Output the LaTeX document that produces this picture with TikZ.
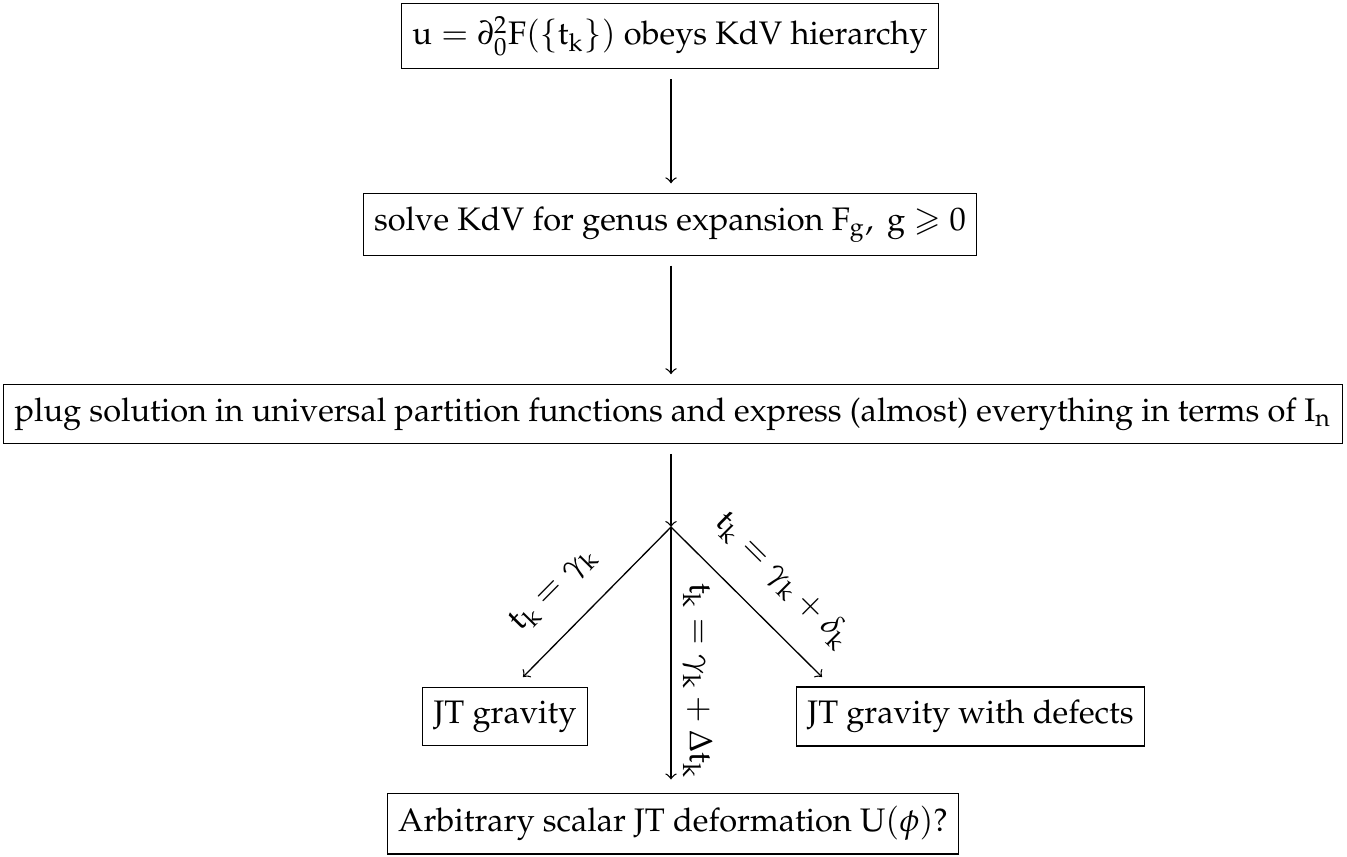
\documentclass[tikz,border=0pt]{standalone}
\usepackage[T1]{fontenc}
\usepackage{amsmath,amssymb}
\usepackage{mathpazo}
\newcommand{\ru}[1]{\mathrm{#1}}
\begin{document}
\begin{tikzpicture}[x=0.307pt,y=-0.307pt,>=to,
  box/.style={draw,inner ysep=4pt},
  flow/.style={->,shorten <=3pt,shorten >=3pt},
  branch/.style={->}]
\useasboundingbox (0,0) rectangle (1347,856);
\node[box] (b1) at (670,36) {$\ru{u}=\partial_0^2\ru{F}(\{\ru{t}_\ru{k}\})$ obeys KdV hierarchy};
\node[box] (b2) at (670,224.5) {solve KdV for genus expansion $\ru{F}_\ru{g},\ \ru{g}\geqslant 0$};
\node[box] (b3) at (673,414) {plug solution in universal partition functions and express (almost) everything in terms of $\ru{I}_\ru{n}$};
\coordinate (j) at (671,527);
\coordinate (jl) at (523,677);
\coordinate (jr) at (822,677);
\node[box] (jt) at (505,716.5) {JT gravity};
\node[box] (jtd) at (970.5,716.5) {JT gravity with defects};
\node[box,anchor=south] (b5) at (673,854.5) {Arbitrary scalar JT deformation $\ru{U}(\phi)$?};
\draw[flow] (b1.south -| j) -- (b2.north -| j);
\draw[flow] (b2.south -| j) -- (b3.north -| j);
\draw[->,shorten <=3pt] (b3.south -| j) -- (j);
\draw[branch] (j) -- node[sloped,above=4.5pt,pos=0.6] (l1) {$\ru{t}_\ru{k}=\gamma_\ru{k}$} (jl);
\draw[branch] (j) -- node[sloped,above=4.5pt,pos=0.55] (l2) {$\ru{t}_\ru{k}=\gamma_\ru{k}+\delta_\ru{k}$} (jr);
\draw[->,shorten >=4pt] (j) -- node[sloped,above,pos=0.58] (l3) {$\ru{t}_\ru{k}=\gamma_\ru{k}+\Delta \ru{t}_\ru{k}$} (b5.north -| j);
\end{tikzpicture}
\end{document}
